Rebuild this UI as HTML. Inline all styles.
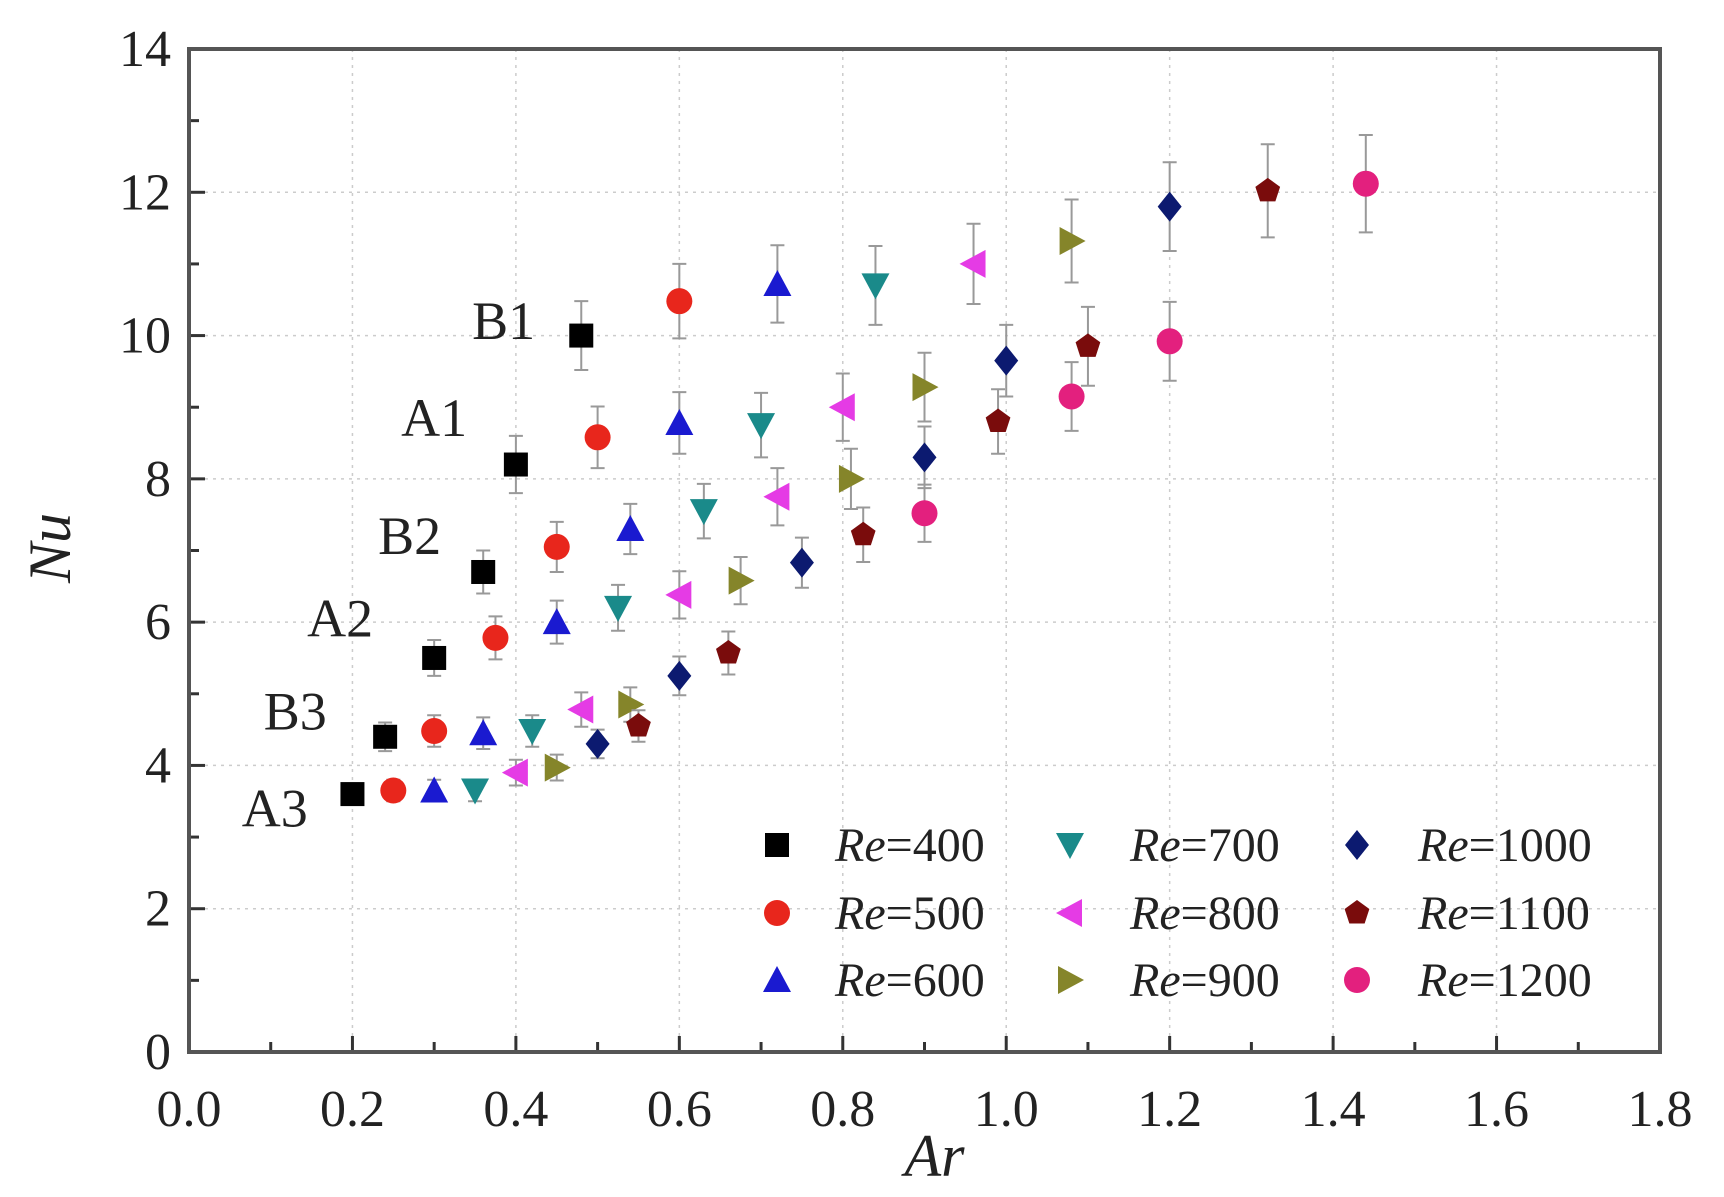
<!DOCTYPE html>
<html><head><meta charset="utf-8"><style>
body{margin:0;background:#fff}
svg text{font-family:"Liberation Serif",serif;fill:#222}
</style></head><body>
<svg id="chart" width="1724" height="1192" viewBox="0 0 1724 1192" xmlns="http://www.w3.org/2000/svg">
<g id="grid"></g>
<g id="axes"></g>
<g id="marks"></g>
<g id="legend"></g>
</svg>
<script>
const xTicks=[0.0,0.2,0.4,0.6,0.8,1.0,1.2,1.4,1.6,1.8];
const yTicks=[0,2,4,6,8,10,12,14];
const seriesNames=["Re=400","Re=500","Re=600","Re=700","Re=800","Re=900","Re=1000","Re=1100","Re=1200"];
const ar400=[0.2,0.24,0.3,0.36,0.4,0.48]; const nu400=[3.6,4.4,5.5,6.7,8.2,10.0]; const er400=[0.15,0.2,0.25,0.3,0.4,0.48];
const ar500=[0.25,0.3,0.375,0.45,0.5,0.6]; const nu500=[3.65,4.48,5.78,7.05,8.58,10.48]; const er500=[0.15,0.22,0.3,0.35,0.43,0.52];
const ar600=[0.3,0.36,0.45,0.54,0.6,0.72]; const nu600=[3.65,4.45,6.0,7.3,8.78,10.72]; const er600=[0.15,0.22,0.3,0.35,0.43,0.54];
const ar700=[0.35,0.42,0.525,0.63,0.7,0.84]; const nu700=[3.65,4.48,6.2,7.55,8.75,10.7]; const er700=[0.15,0.22,0.32,0.38,0.45,0.55];
const ar800=[0.4,0.48,0.6,0.72,0.8,0.96]; const nu800=[3.9,4.78,6.38,7.75,9.0,11.0]; const er800=[0.18,0.24,0.33,0.4,0.47,0.56];
const ar900=[0.45,0.54,0.675,0.81,0.9,1.08]; const nu900=[3.97,4.85,6.58,8.0,9.28,11.32]; const er900=[0.18,0.24,0.33,0.42,0.48,0.58];
const ar1000=[0.5,0.6,0.75,0.9,1.0,1.2]; const nu1000=[4.3,5.25,6.83,8.3,9.65,11.8]; const er1000=[0.2,0.27,0.35,0.43,0.5,0.62];
const ar1100=[0.55,0.66,0.825,0.99,1.1,1.32]; const nu1100=[4.55,5.57,7.22,8.8,9.85,12.02]; const er1100=[0.22,0.3,0.38,0.45,0.55,0.65];
const ar1200=[0.9,1.08,1.2,1.44]; const nu1200=[7.52,9.15,9.92,12.12]; const er1200=[0.4,0.48,0.55,0.68];
const groupLabels=["B1","A1","B2","A2","B3","A3"];
const groupLabelNu=[9.95,8.6,6.95,5.8,4.5,3.15];
const groupLabelAr=[0.385,0.3,0.27,0.185,0.13,0.105];

const L=189,R=1660,T=49,B=1052;
const X=v=>L+(v-0)/1.8*(R-L);
const Y=v=>B-(v/14)*(B-T);
const NS="http://www.w3.org/2000/svg";
function mk(tag,parent,attrs){const e=document.createElementNS(NS,tag);for(const k in attrs)e.setAttribute(k,attrs[k]);parent.appendChild(e);return e;}
const grid=document.getElementById('grid'),axes=document.getElementById('axes'),marks=document.getElementById('marks'),legend=document.getElementById('legend');

xTicks.forEach((t,i)=>{
 if(i>0&&i<xTicks.length-1){const g=mk('line',grid,{x1:X(t),x2:X(t),y1:T,y2:B,stroke:'#ccc','stroke-width':1.5,'stroke-dasharray':'3 5'});}
 const tk=mk('line',axes,{x1:X(t),x2:X(t),y1:B,y2:B-16,stroke:'#333','stroke-width':3});
 if(i<xTicks.length-1){const m=mk('line',axes,{x1:X(t+0.1),x2:X(t+0.1),y1:B,y2:B-10,stroke:'#333','stroke-width':3});}
 const tx=mk('text',axes,{x:X(t),y:B+74,'text-anchor':'middle','font-size':52});tx.textContent=t.toFixed(1);
});
yTicks.forEach((t,i)=>{
 if(i>0&&i<yTicks.length-1){const g=mk('line',grid,{x1:L,x2:R,y1:Y(t),y2:Y(t),stroke:'#ccc','stroke-width':1.5,'stroke-dasharray':'3 5'});}
 const tk=mk('line',axes,{x1:L,x2:L+16,y1:Y(t),y2:Y(t),stroke:'#333','stroke-width':3});
 if(i<yTicks.length-1){const m=mk('line',axes,{x1:L,x2:L+10,y1:Y(t+1),y2:Y(t+1),stroke:'#333','stroke-width':3});}
 const tx=mk('text',axes,{x:L-18,y:Y(t)+17,'text-anchor':'end','font-size':52});tx.textContent=t;
});
const frame=mk('rect',axes,{x:L,y:T,width:R-L,height:B-T,fill:'none',stroke:'#555','stroke-width':4});

const xl=mk('text',axes,{x:(L+R)/2+10,y:1176,'text-anchor':'middle','font-size':60,'font-style':'italic'});xl.textContent='Ar';

const yl=mk('text',axes,{x:70,y:548,'text-anchor':'middle','font-size':60,'font-style':'italic',transform:'rotate(-90 70 548)'});yl.textContent='Nu';


groupLabels.forEach((s,i)=>{const t=mk('text',axes,{x:X(groupLabelAr[i]),y:Y(groupLabelNu[i]),'text-anchor':'middle','font-size':54});t.textContent=s;});

function marker(parent,shape,cx,cy,color){
 const s=12;let e;
 if(shape==='sq')e=mk('rect',parent,{x:cx-s,y:cy-s,width:2*s,height:2*s,fill:color});
 else if(shape==='ci')e=mk('circle',parent,{cx:cx,cy:cy,r:s+1,fill:color});
 else{let p;
  if(shape==='up')p=[[0,-s-2],[s+2,s],[-s-2,s]];
  if(shape==='dn')p=[[0,s+2],[s+2,-s],[-s-2,-s]];
  if(shape==='lt')p=[[-s-2,0],[s,-s-2],[s,s+2]];
  if(shape==='rt')p=[[s+2,0],[-s,-s-2],[-s,s+2]];
  if(shape==='di')p=[[0,-s-3],[s,0],[0,s+3],[-s,0]];
  if(shape==='pe')p=[0,1,2,3,4].map(k=>[ (s+1)*Math.sin(k*2*Math.PI/5), -(s+1)*Math.cos(k*2*Math.PI/5)]);
  e=mk('polygon',parent,{points:p.map(q=>(cx+q[0])+','+(cy+q[1])).join(' '),fill:color});}
 return e;
}
const series=[
 [ar400,nu400,er400,'sq','#000'],[ar500,nu500,er500,'ci','#e8261c'],[ar600,nu600,er600,'up','#1a1ad0'],
 [ar700,nu700,er700,'dn','#1a8a8a'],[ar800,nu800,er800,'lt','#e53be5'],[ar900,nu900,er900,'rt','#85852a'],
 [ar1000,nu1000,er1000,'di','#0c1a70'],[ar1100,nu1100,er1100,'pe','#7a0c0c'],[ar1200,nu1200,er1200,'ci','#e3207e']];
series.forEach((s,si)=>{
 const g=mk('g',marks,{});
 s[0].forEach((a,i)=>{
  const cx=X(a),cy=Y(s[1][i]),e=s[2][i];
  const eb=mk('path',g,{d:`M${cx},${Y(s[1][i]+e)}V${Y(s[1][i]-e)}M${cx-7},${Y(s[1][i]+e)}h14M${cx-7},${Y(s[1][i]-e)}h14`,stroke:'#999','stroke-width':2,fill:'none'});
  
  const m=marker(g,s[3],cx,cy,s[4]);
 });
});
const legX=[777,1070,1357],legY=[845,913,980],legTX=[835,1130,1418];
series.forEach((s,si)=>{
 const c=Math.floor(si/3),r=si%3;
 const g=mk('g',legend,{});
 const m=marker(g,s[3],legX[c],legY[r],s[4]);
 const t=mk('text',g,{x:legTX[c],y:legY[r]+16,'font-size':48});
 const parts=seriesNames[si].split('=');
 const it=mk('tspan',t,{'font-style':'italic'});it.textContent=parts[0];
 const rest=mk('tspan',t,{});rest.textContent='='+parts[1];
});
</script>
</body></html>
